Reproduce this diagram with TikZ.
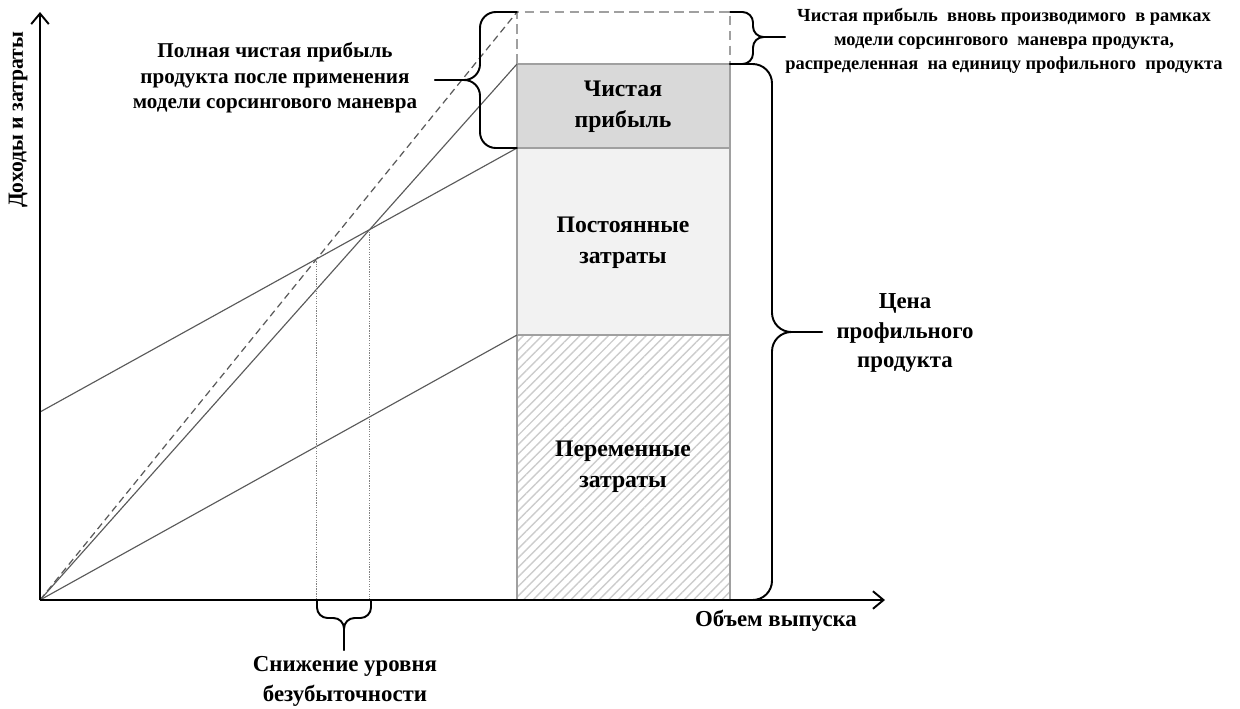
\documentclass[tikz,border=0pt]{standalone}
\usepackage{fontspec}
\setmainfont{Liberation Serif}
\usetikzlibrary{arrows.meta,patterns.meta}
\definecolor{linegray}{RGB}{90,90,90}
\definecolor{boxgray}{RGB}{160,160,160}
\begin{document}
\begin{tikzpicture}[x=0.02cm,y=-0.02cm,
  axis/.style={line width=1.1pt,-{Straight Barb[length=6pt,width=10pt,line width=1.1pt]}},
  graphline/.style={linegray,line width=0.65pt},
  dashline/.style={linegray,line width=0.7pt,dash pattern=on 4pt off 2.5pt},
  dotline/.style={gray,line width=0.5pt,dash pattern=on 0.7pt off 0.7pt},
  colborder/.style={boxgray,line width=0.6pt},
  bracepath/.style={line width=1.1pt,line cap=round},
  lbl/.style={font=\bfseries\fontsize{13}{17}\selectfont,align=center,inner sep=0pt},
  collbl/.style={font=\bfseries\fontsize{13.5}{17.5}\selectfont,align=center,inner sep=0pt},
  lblsmall/.style={font=\bfseries\fontsize{12}{14.5}\selectfont,align=center,inner sep=0pt},
  lbltiny/.style={font=\bfseries\fontsize{10.5}{13.6}\selectfont,align=center,inner sep=0pt}
]
\useasboundingbox (0,0) rectangle (1240,708);
% key points
\coordinate (O) at (40,600);
\coordinate (Ytop) at (40,12);
\coordinate (Xend) at (885,600);
\coordinate (VC) at (517,335);
\coordinate (FC) at (517,148);
\coordinate (NP) at (517,64);
\coordinate (TP) at (517,12);
\coordinate (F0) at (40,412);
\coordinate (B1) at (316.8,258.8);
\coordinate (B2) at (369.7,229.5);
\coordinate (B1x) at (316.8,600);
\coordinate (B2x) at (369.7,600);
% columns
\fill[gray!10] (517,148) rectangle (730,335);
\fill[gray!30] (517,64) rectangle (730,148);
\fill[pattern={Lines[angle=45,distance=3.8pt,line width=0.8pt]},pattern color=gray!40] (517,335) rectangle (730,600);
\draw[colborder] (517,64) rectangle (730,600);
\draw[colborder] (517,148) -- (730,148);
\draw[colborder] (517,335) -- (730,335);
\draw[colborder,dash pattern=on 5.5pt off 3pt] (517,64) -- (517,12) -- (730,12) -- (730,64);
% graph lines
\draw[graphline] (O) -- (VC);
\draw[graphline] (F0) -- (FC);
\draw[graphline] (O) -- (NP);
\draw[dashline] (O) -- (TP);
\draw[dotline] (B1) -- (B1x);
\draw[dotline] (B2) -- (B2x);
% axes
\draw[axis] (O) -- (Ytop);
\draw[axis] (O) -- (Xend);
% braces
\draw[bracepath,rounded corners=11pt] (730,64) -- (772,64) -- (772,332) -- (822,332);
\draw[bracepath,rounded corners=11pt] (822,332) -- (772,332) -- (772,600) -- (730,600);
\draw[bracepath,rounded corners=6pt] (730,12) -- (753,12) -- (753,37) -- (785,37);
\draw[bracepath,rounded corners=6pt] (785,37) -- (753,37) -- (753,64) -- (730,64);
\draw[bracepath,rounded corners=9pt] (517,12) -- (480,12) -- (480,80) -- (435,80);
\draw[bracepath,rounded corners=9pt] (435,80) -- (480,80) -- (480,148) -- (517,148);
\draw[bracepath,rounded corners=6pt] (317,600) -- (317,618) -- (344,618) -- (344,650);
\draw[bracepath,rounded corners=6pt] (344,650) -- (344,618) -- (371,618) -- (371,600);
% labels
\node[collbl] (npl) at (623,107) {Чистая\\прибыль};
\node[collbl] (fcl) at (623,243) {Постоянные\\затраты};
\node[collbl] (vcl) at (623,467) {Переменные\\затраты};
\node[lbl] (price) at (905,333) {Цена\\профильного\\продукта};
\node[lbl] (be) at (345,681) {Снижение уровня\\безубыточности};
\node[lbl] (xl) at (776,621) {Объем выпуска};
\node[lbl,rotate=90,font=\bfseries\fontsize{12.3}{15}\selectfont] (yl) at (18,120) {Доходы и затраты};
\node[lblsmall] (full) at (275,78) {Полная чистая прибыль\\продукта после применения\\модели сорсингового маневра};
\node[lbltiny] (tr) at (1004,41) {Чистая прибыль\ \ вновь производимого\ \ в рамках\\модели сорсингового\ \ маневра продукта,\\распределенная\ \ на единицу профильного\ \ продукта};
\end{tikzpicture}
\end{document}
